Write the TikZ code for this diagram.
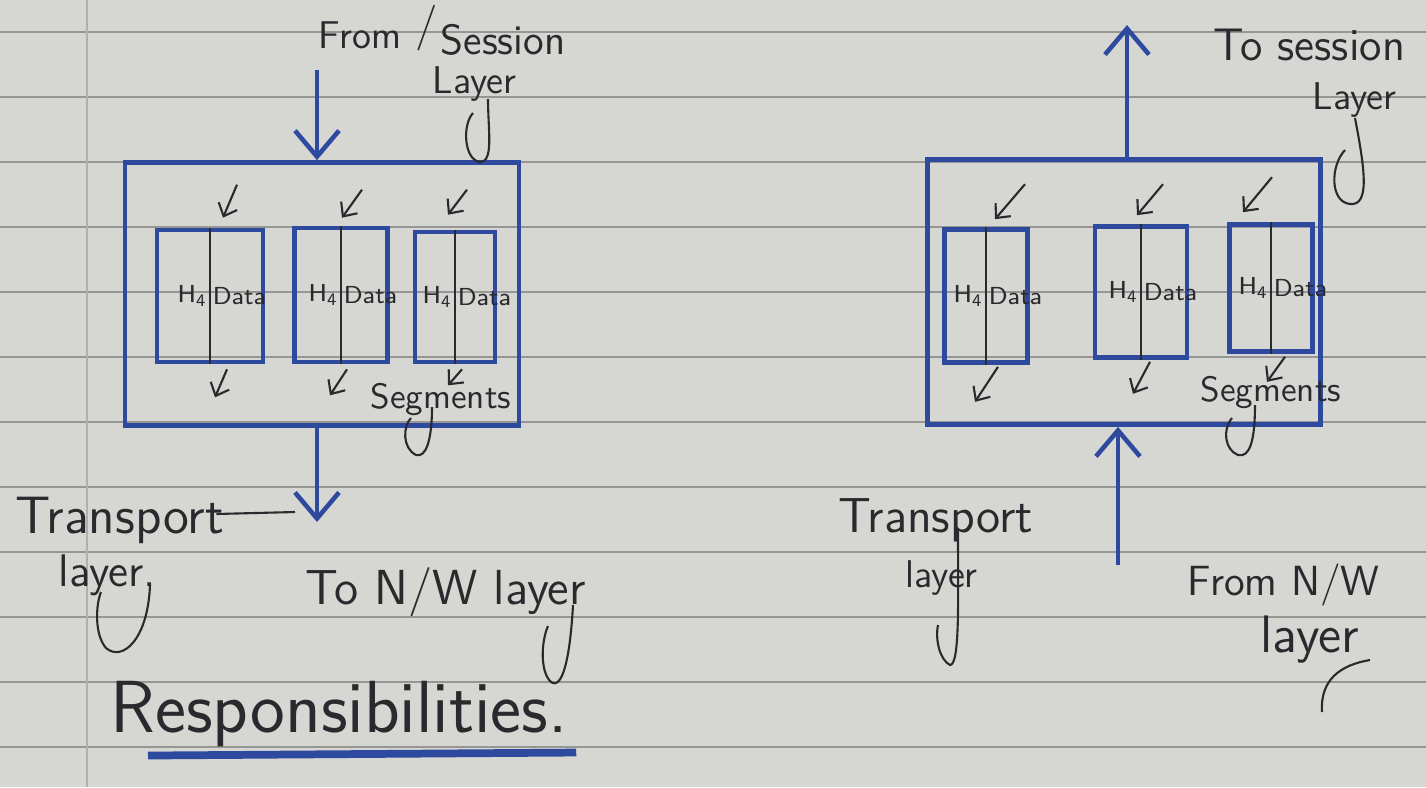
\documentclass[tikz,border=0pt]{standalone}
\usetikzlibrary{calc, arrows.meta, positioning}
\definecolor{penblue}{RGB}{46,74,158}
\definecolor{ink}{RGB}{42,42,46}
\definecolor{paper}{RGB}{214,214,210}
\definecolor{ruling}{RGB}{150,150,148}
\tikzset{
  layerbox/.style={draw=penblue, line width=1.3pt, inner sep=0pt},
  segbox/.style={draw=penblue, line width=1.3pt, inner sep=0pt},
  seglabel/.style={text=ink, font=\sffamily\fontsize{7}{8}\selectfont, inner sep=0.6pt},
  hand/.style={text=ink, font=\sffamily\fontsize{13}{15}\selectfont, inner sep=0pt, anchor=west},
  flow/.style={draw=penblue, line width=1.3pt, -{Straight Barb[length=2.6mm,width=4.4mm]}},
  tick/.style={draw=ink, line width=0.6pt, -{Straight Barb[length=1.1mm,width=2mm]}},
  curl/.style={draw=ink, line width=0.6pt},
}

\begin{document}
\begin{tikzpicture}[x=0.01cm, y=-0.01cm]
    % ruled page
    \path[use as bounding box, fill=paper] (0,0) rectangle (1426,787);
    \foreach \y in {32,97,...,747}
        \draw[ruling, line width=0.5pt] (0,\y) -- (1426,\y);
    \draw[ruling!60!paper, line width=0.5pt] (87,0) -- (87,787);

    % sending side
    \node[layerbox, minimum width=3.94cm, minimum height=2.63cm] (ltl) at (322,294) {};
    \node[segbox, minimum width=1.06cm, minimum height=1.32cm] (ls1) at (210,296) {};
    \node[segbox, minimum width=0.93cm, minimum height=1.34cm] (ls2) at (341,295) {};
    \node[segbox, minimum width=0.80cm, minimum height=1.30cm] (ls3) at (455,297) {};
    \draw[ink, line width=0.6pt] (ls1.north) -- (ls1.south);
    \draw[ink, line width=0.6pt] (ls2.north) -- (ls2.south);
    \draw[ink, line width=0.6pt] (ls3.north) -- (ls3.south);
    \node[seglabel, left=0pt of ls1.center] (ls1h) {H\textsubscript{4}};
    \node[seglabel, right=0pt of ls1.center] (ls1d) {Data};
    \node[seglabel, left=0pt of ls2.center] (ls2h) {H\textsubscript{4}};
    \node[seglabel, right=0pt of ls2.center] (ls2d) {Data};
    \node[seglabel, left=0pt of ls3.center] (ls3h) {H\textsubscript{4}};
    \node[seglabel, right=0pt of ls3.center] (ls3d) {Data};

    \draw[tick] ($(ls1.north)+(27,-43)$) -- ($(ls1.north)+(13,-10)$);
    \draw[tick] ($(ls2.north)+(21,-36)$) -- ($(ls2.north)+(1,-8)$);
    \draw[tick] ($(ls3.north)+(12,-40)$) -- ($(ls3.north)+(-7,-15)$);
    \draw[tick] ($(ls1.south)+(17,5)$) -- ($(ls1.south)+(5,33)$);
    \draw[tick] ($(ls2.south)+(6,5)$) -- ($(ls2.south)+(-11,31)$);
    \draw[tick] ($(ls3.south)+(7,5)$) -- ($(ls3.south)+(-7,21)$);

    \coordinate (lin) at (317,70);
    \coordinate (lout) at (317,522);
    \draw[flow] (lin) -- (lin |- ltl.north);
    \draw[flow] (lout |- ltl.south) -- (lout);

    \node[hand, font=\sffamily\fontsize{11}{13}\selectfont] (lfrom) at (318,35) {From};
    \node[hand, font=\sffamily\fontsize{13}{15}\selectfont] (lslash) at (415,28) {/};
    \node[hand, font=\sffamily\fontsize{12}{14}\selectfont] (lses) at (440,40) {Session};
    \node[hand, font=\sffamily\fontsize{11}{13}\selectfont] (llay) at (432,84) {Layer};
    \draw[curl] (488,99) .. controls (488,130) and (494,162) .. (480,162) .. controls (464,160) and (462,125) .. (473,113);

    \node[hand, font=\sffamily\fontsize{10}{12}\selectfont] (lseg) at (370,400) {Segments};
    \draw[curl] (432,407) .. controls (432,440) and (426,458) .. (416,455) .. controls (402,448) and (403,426) .. (411,418);

    \node[hand, font=\sffamily\fontsize{15}{17}\selectfont] (ltrans) at (15,520) {Transport};
    \draw[ink, line width=0.6pt] ($(ltrans.east)+(-8,-6)$) -- ($(lout)+(-22,-10)$);
    \node[hand] (lltr) at (58,575) {layer.};
    \draw[curl] (150,585) .. controls (148,640) and (122,662) .. (106,648) .. controls (94,634) and (96,604) .. (101,592);
    \node[hand, font=\sffamily\fontsize{14}{16}\selectfont] (ltonw) at (305,592) {To N/W layer};
    \draw[curl] (573,605) .. controls (570,660) and (562,690) .. (551,682) .. controls (540,672) and (541,642) .. (548,626);

    \node[hand, font=\sffamily\fontsize{21}{23}\selectfont] (lresp) at (110,714) {Responsibilities.};
    \draw[penblue, line width=2.2pt] ($(lresp.south west)+(38,8)$) -- ($(lresp.south east)+(8,5)$);

    % receiving side
    \node[layerbox, minimum width=3.93cm, minimum height=2.65cm] (rtl) at (1124,292) {};
    \node[segbox, minimum width=0.83cm, minimum height=1.33cm] (rs1) at (986,296) {};
    \node[segbox, minimum width=0.92cm, minimum height=1.31cm] (rs2) at (1141,292) {};
    \node[segbox, minimum width=0.83cm, minimum height=1.27cm] (rs3) at (1271,288) {};
    \draw[ink, line width=0.6pt] (rs1.north) -- (rs1.south);
    \draw[ink, line width=0.6pt] (rs2.north) -- (rs2.south);
    \draw[ink, line width=0.6pt] (rs3.north) -- (rs3.south);
    \node[seglabel, left=0pt of rs1.center] (rs1h) {H\textsubscript{4}};
    \node[seglabel, right=0pt of rs1.center] (rs1d) {Data};
    \node[seglabel, left=0pt of rs2.center] (rs2h) {H\textsubscript{4}};
    \node[seglabel, right=0pt of rs2.center] (rs2d) {Data};
    \node[seglabel, left=0pt of rs3.center] (rs3h) {H\textsubscript{4}};
    \node[seglabel, right=0pt of rs3.center] (rs3d) {Data};

    \draw[tick] ($(rs1.north)+(39,-43)$) -- ($(rs1.north)+(9,-8)$);
    \draw[tick] ($(rs2.north)+(22,-40)$) -- ($(rs2.north)+(-4,-9)$);
    \draw[tick] ($(rs3.north)+(1,-45)$) -- ($(rs3.north)+(-28,-10)$);
    \draw[tick] ($(rs1.south)+(12,2)$) -- ($(rs1.south)+(-11,37)$);
    \draw[tick] ($(rs2.south)+(9,2)$) -- ($(rs2.south)+(-8,34)$);
    \draw[tick] ($(rs3.south)+(14,3)$) -- ($(rs3.south)+(-4,28)$);

    \coordinate (rout) at (1127,25);
    \coordinate (rin) at (1118,565);
    \draw[flow] (rout |- rtl.north) -- (rout);
    \draw[flow] (rin) -- (rin |- rtl.south);

    \node[hand] (rtoses) at (1213,45) {To session};
    \node[hand, font=\sffamily\fontsize{11}{13}\selectfont] (rlay) at (1312,100) {Layer};
    \draw[curl] (1355,118) .. controls (1365,170) and (1370,206) .. (1350,204) .. controls (1330,202) and (1330,166) .. (1345,150);

    \node[hand, font=\sffamily\fontsize{10}{12}\selectfont] (rseg) at (1200,393) {Segments};
    \draw[curl] (1255,405) .. controls (1255,440) and (1250,458) .. (1238,455) .. controls (1225,450) and (1222,430) .. (1232,418);

    \node[hand, font=\sffamily\fontsize{14}{16}\selectfont] (rtrans) at (838,520) {Transport};
    \node[hand, font=\sffamily\fontsize{11}{13}\selectfont] (rlayer) at (905,578) {layer};
    \draw[curl] (958,530) .. controls (958,600) and (960,665) .. (950,665) .. controls (940,660) and (935,640) .. (938,625);
    \node[hand, font=\sffamily\fontsize{12}{14}\selectfont] (rfrom) at (1187,585) {From N/W};
    \node[hand, font=\sffamily\fontsize{15}{17}\selectfont] (rnwlay) at (1260,640) {layer};
    \draw[curl] (1370,660) .. controls (1340,665) and (1320,680) .. (1322,712);
\end{tikzpicture}
\end{document}
